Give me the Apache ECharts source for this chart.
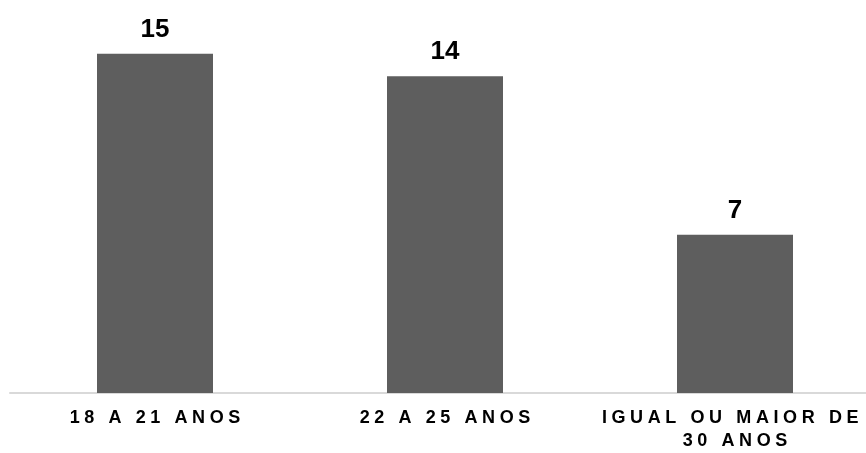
<!DOCTYPE html>
<html>
<head>
<meta charset="utf-8">
<style>
  html, body { margin: 0; padding: 0; background: #ffffff; }
  #chart { width: 866px; height: 453px; }
</style>
<script src="https://cdn.jsdelivr.net/npm/echarts@6/dist/echarts.min.js"></script>
</head>
<body>
<div id="chart"></div>
<script>
// Age groups and respondent counts
const categories = ['18 A 21 ANOS', '22 A 25 ANOS', 'IGUAL OU MAIOR DE \n30 ANOS'];
const counts = [15, 14, 7];

const FONT = '"Liberation Sans", Arial, sans-serif';

// Spread the letters of a category label apart, one rich token per character
function spaced(label) {
  return label.split('\n').map(function (line) {
    return line.split('').map(function (ch) {
      return '{c|' + ch + '}';
    }).join('');
  }).join('\n');
}

const chart = echarts.init(document.getElementById('chart'), null, { renderer: 'canvas' });

chart.setOption({
  animation: false,
  backgroundColor: '#ffffff',
  // the plot runs a little past the right edge, so the last label is clipped
  grid: { left: 10, top: 31, width: 870, bottom: 60, containLabel: false, outerBoundsMode: 'none' },
  xAxis: {
    type: 'category',
    data: categories,
    axisTick: { show: false },
    axisLine: { show: true, lineStyle: { color: '#d9d9d9', width: 2 } },
    axisLabel: {
      interval: 0,
      margin: 14,
      fontFamily: FONT,
      fontSize: 18,
      fontWeight: 700,
      color: '#000000',
      lineHeight: 23,
      hideOverlap: false,
      formatter: spaced,
      rich: {
        c: {
          fontFamily: FONT,
          fontSize: 18,
          fontWeight: 700,
          color: '#000000',
          lineHeight: 23,
          padding: [0, 2.3, 0, 2.3]
        }
      }
    }
  },
  yAxis: {
    type: 'value',
    min: 0,
    max: 16,
    show: false,
    splitLine: { show: false }
  },
  series: [{
    type: 'bar',
    data: counts,
    barWidth: '40%',
    itemStyle: { color: '#5e5e5e' },
    label: {
      show: true,
      position: 'top',
      distance: 11,
      fontFamily: FONT,
      fontSize: 26,
      fontWeight: 'bold',
      color: '#000000'
    }
  }]
});
</script>
</body>
</html>
